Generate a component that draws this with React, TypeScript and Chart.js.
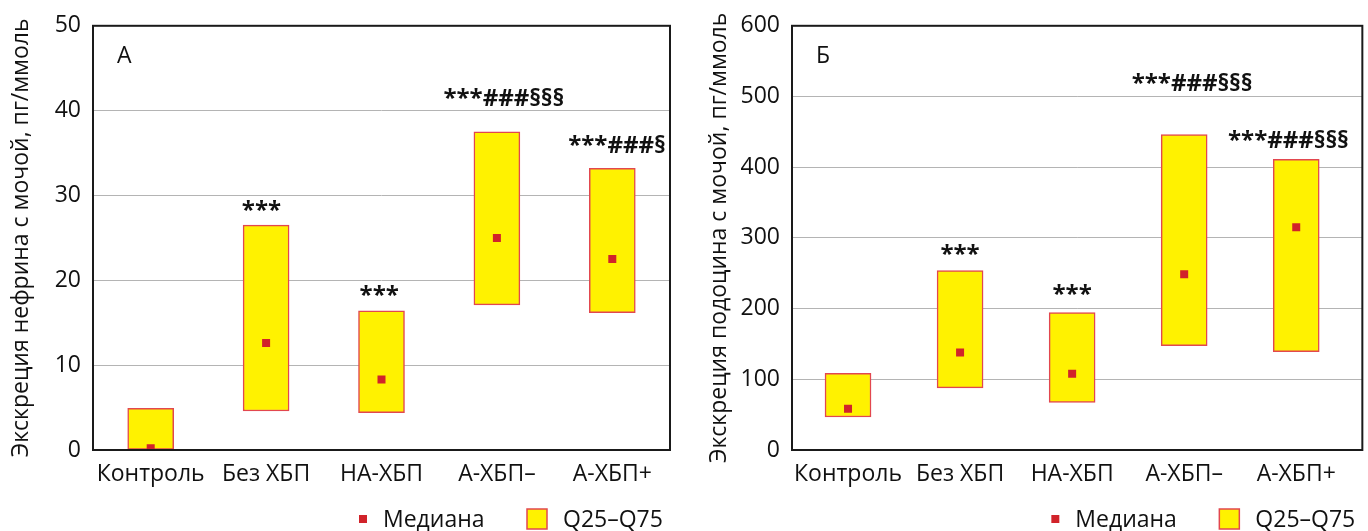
import React, { useEffect, useRef } from 'react';
import { Chart, registerables } from 'chart.js';

Chart.register(...registerables);

const categories = ['Контроль', 'Без ХБП', 'НА-ХБП', 'А-ХБП–', 'А-ХБП+'];

const nephrinQ25 = [0, 4.6, 4.4, 17.1, 16.2];
const nephrinQ75 = [4.9, 26.5, 16.4, 37.5, 33.2];
const nephrinMedian = [0.2, 12.6, 8.3, 25.0, 22.5];
const nephrinMarks = ['', '***', '***', '***###§§§', '***###§'];
const nephrinMarkY = [0, 27.4, 17.3, 40.6, 35.0];

const podocinQ25 = [46.7, 87.8, 67.3, 147.7, 139.2];
const podocinQ75 = [108.4, 253.7, 194.4, 446, 411];
const podocinMedian = [58.4, 138, 108, 248.6, 315];
const podocinMarks = ['', '***', '***', '***###§§§', '***###§§§'];
const podocinMarkY = [0, 266, 210, 507.5, 427.6];

const FONT = '"Open Sans", "Noto Sans", sans-serif';
const YELLOW = '#fff200';
const EDGE = '#e2474f';
const RED = '#d1232a';
const GRID = '#b4b4b4';
const TEXT = '#111111';

type PanelProps = {
  letter: string;
  title: string;
  q25: number[];
  q75: number[];
  median: number[];
  marks: string[];
  markY: number[];
  markShift: number[];
  yMax: number;
  yStep: number;
  xMax: number;
  width: number;
  axisWidth: number;
  padRight: number;
  titlePad: number;
};

function Panel(p: PanelProps) {
  const ref = useRef<HTMLCanvasElement>(null);
  useEffect(() => {
    const frame = {
      id: 'frame',
      afterDatasetsDraw(chart: any) {
        const { ctx, chartArea: a } = chart;
        ctx.save();
        ctx.strokeStyle = '#1a1a1a';
        ctx.lineWidth = 2;
        ctx.strokeRect(a.left, a.top, a.right - a.left, a.bottom - a.top);
        ctx.restore();
      },
    };
    const marksPlugin = {
      id: 'marks',
      afterDatasetsDraw(chart: any) {
        const { ctx, chartArea: a } = chart;
        const xs = chart.scales.x;
        const ys = chart.scales.y;
        ctx.save();
        ctx.fillStyle = TEXT;
        ctx.textAlign = 'center';
        ctx.textBaseline = 'alphabetic';
        ctx.font = `bold 24px ${FONT}`;
        p.marks.forEach((m, i) => {
          if (!m) return;
          ctx.fillText(m, xs.getPixelForValue(i + p.markShift[i]), ys.getPixelForValue(p.markY[i]));
        });
        ctx.textAlign = 'left';
        ctx.font = `23px ${FONT}`;
        ctx.fillText(p.letter, a.left + 24, 63);
        ctx.restore();
      },
    };
    const legendPlugin = {
      id: 'customLegend',
      afterDraw(chart: any) {
        const { ctx, chartArea: a } = chart;
        const r = a.right;
        const cy = 519;
        ctx.save();
        ctx.fillStyle = RED;
        ctx.fillRect(r - 311, cy - 4, 8, 8);
        ctx.fillStyle = YELLOW;
        ctx.fillRect(r - 143, cy - 10, 20, 20);
        ctx.strokeStyle = EDGE;
        ctx.lineWidth = 1.5;
        ctx.strokeRect(r - 143, cy - 10, 20, 20);
        ctx.fillStyle = TEXT;
        ctx.font = `23px ${FONT}`;
        ctx.textAlign = 'left';
        ctx.textBaseline = 'middle';
        ctx.fillText('Медиана', r - 287, cy + 1);
        ctx.fillText('Q25–Q75', r - 107, cy + 1);
        ctx.restore();
      },
    };
    const chart = new Chart(ref.current!, {
      type: 'bar',
      data: {
        datasets: [
          {
            type: 'line',
            label: 'Медиана',
            data: categories.map((_, i) => ({ x: i, y: p.median[i] })),
            showLine: false,
            pointStyle: 'rect',
            pointRadius: 5.66,
            pointBackgroundColor: RED,
            pointBorderWidth: 0,
            order: 0,
          } as any,
          {
            type: 'bar',
            label: 'Q25–Q75',
            data: categories.map((_, i) => ({ x: i, y: [p.q25[i], p.q75[i]] })),
            backgroundColor: YELLOW,
            borderColor: EDGE,
            borderWidth: 1.5,
            borderSkipped: false,
            barThickness: 46,
            order: 1,
          } as any,
        ],
      },
      options: {
        responsive: false,
        animation: false,
        layout: { padding: { left: 0, top: 22, right: p.padRight, bottom: 0 } },
        plugins: { legend: { display: false }, tooltip: { enabled: false } },
        scales: {
          x: {
            type: 'linear',
            offset: false,
            min: -0.5,
            max: p.xMax,
            afterBuildTicks: (s: any) => {
              s.ticks = categories.map((_, i) => ({ value: i }));
            },
            afterFit: (s: any) => {
              s.height = 81;
            },
            ticks: {
              callback: (v: any) => categories[v] ?? '',
              font: { family: FONT, size: 23 },
              color: TEXT,
              padding: 3,
              autoSkip: false,
              maxRotation: 0,
            },
            grid: { display: false, offset: false },
            border: { display: false },
          },
          y: {
            min: 0,
            max: p.yMax,
            afterFit: (s: any) => {
              s.width = p.axisWidth;
            },
            ticks: {
              stepSize: p.yStep,
              font: { family: FONT, size: 23 },
              color: TEXT,
              padding: 12,
            },
            grid: { color: GRID, drawTicks: false, lineWidth: 1 },
            border: { display: false },
            title: {
              display: true,
              text: p.title,
              font: { family: FONT, size: 23 },
              color: TEXT,
              padding: { top: p.titlePad, bottom: 0 },
            },
          },
        },
      } as any,
      plugins: [frame, marksPlugin, legendPlugin],
    });
    return () => chart.destroy();
  }, []);
  return <canvas ref={ref} width={p.width} height={531} style={{ display: 'block' }} />;
}

export default function App() {
  return (
    <div style={{ position: 'fixed', left: 0, top: 0, width: 1368, height: 531, background: '#fff', display: 'flex' }}>
      <Panel
        letter="А"
        title="Экскреция нефрина с мочой, пг/ммоль"
        q25={nephrinQ25}
        q75={nephrinQ75}
        median={nephrinMedian}
        marks={nephrinMarks}
        markY={nephrinMarkY}
        markShift={[0, -0.04, -0.02, 0.06, 0.04]}
        yMax={50}
        yStep={10}
        xMax={4.5}
        width={690}
        axisWidth={93}
        padRight={20}
        titlePad={8}
      />
      <Panel
        letter="Б"
        title="Экскреция подоцина с мочой, пг/ммоль"
        q25={podocinQ25}
        q75={podocinQ75}
        median={podocinMedian}
        marks={podocinMarks}
        markY={podocinMarkY}
        markShift={[0, 0, 0, 0.07, -0.07]}
        yMax={600}
        yStep={100}
        xMax={4.59}
        width={678}
        axisWidth={102}
        padRight={1}
        titlePad={16}
      />
    </div>
  );
}
